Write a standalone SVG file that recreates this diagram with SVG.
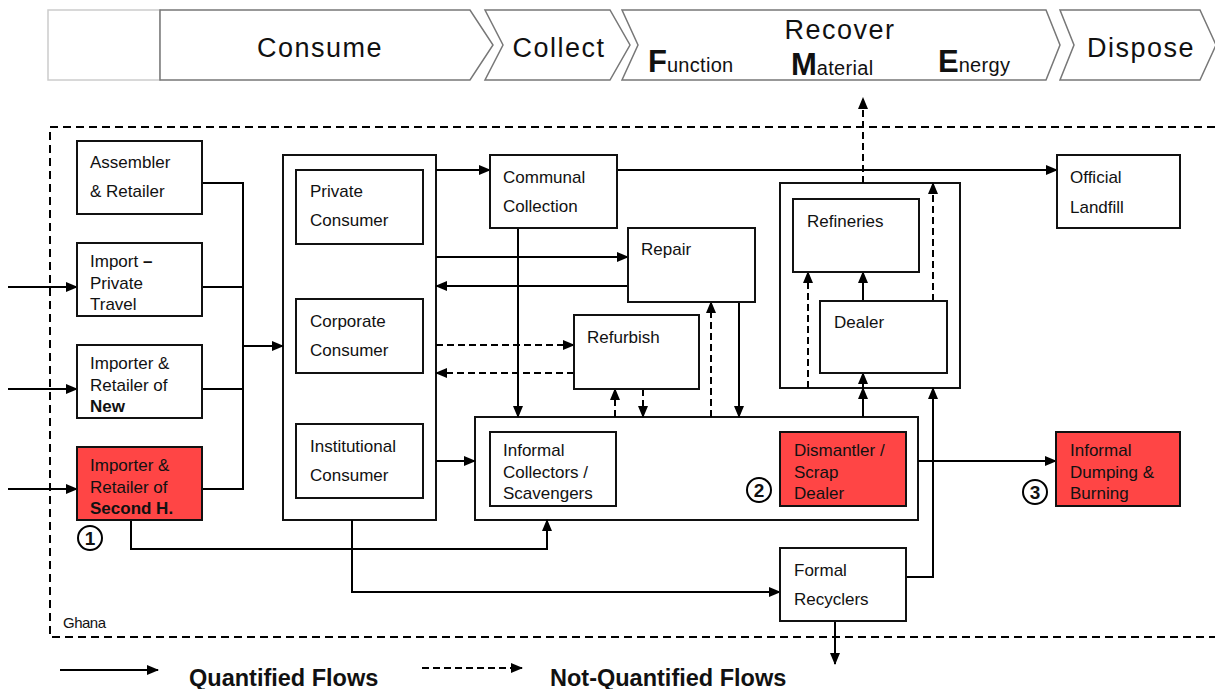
<svg xmlns="http://www.w3.org/2000/svg" width="1215" height="689" viewBox="0 0 1215 689">
<defs>
<marker id="ah" markerWidth="12" markerHeight="10" refX="11" refY="5" orient="auto" markerUnits="userSpaceOnUse">
<path d="M0,0 L12,5 L0,10 z" fill="#000"/>
</marker>
<style>
text{font-family:"Liberation Sans",Arial,sans-serif;fill:#111}
.n{font-size:17px}
.b{font-weight:bold}
.box{fill:#fff;stroke:#111;stroke-width:2}
.red{fill:#ff4545;stroke:#111;stroke-width:2}
.chev{fill:#fff;stroke:#777;stroke-width:1.5}
.ban{font-size:27px;letter-spacing:1.5px}
.sm{font-size:20px;letter-spacing:0.3px}
.s{fill:none;stroke:#000;stroke-width:2}
.sa{fill:none;stroke:#000;stroke-width:2;marker-end:url(#ah)}
.d{fill:none;stroke:#000;stroke-width:2;stroke-dasharray:7,4}
.da{fill:none;stroke:#000;stroke-width:2;stroke-dasharray:7,4;marker-end:url(#ah)}
.circ{fill:#fff;stroke:#000;stroke-width:2}
.num{font-size:19px;font-weight:bold;text-anchor:middle}
.leg{font-size:23.5px;font-weight:bold}
</style>
</defs>

<g id="banner">
<rect x="48" y="10" width="112" height="70" fill="#fff" stroke="#ccc" stroke-width="1.5"/>
<path class="chev" d="M160,10 H470 L493,45 L470,80 H160 Z"/>
<text class="ban" x="320" y="57" text-anchor="middle">Consume</text>
<path class="chev" d="M485,10 H610 L630,45 L610,80 H485 L503,45 Z"/>
<text class="ban" x="559" y="57" text-anchor="middle">Collect</text>
<path class="chev" d="M622,10 H1046 L1060,45 L1046,80 H622 L638,45 Z"/>
<text class="ban" x="840" y="39" text-anchor="middle">Recover</text>
<text x="648" y="72"><tspan class="b" font-size="31px">F</tspan><tspan class="sm">unction</tspan></text>
<text x="791" y="75"><tspan class="b" font-size="31px">M</tspan><tspan class="sm">aterial</tspan></text>
<text x="938" y="72"><tspan class="b" font-size="31px">E</tspan><tspan class="sm">nergy</tspan></text>
<path class="chev" d="M1060,10 H1200 L1216,45 L1200,80 H1060 L1074,45 Z"/>
<text class="ban" x="1141" y="57" text-anchor="middle">Dispose</text>
</g>

<g id="ghana">
<path d="M1215,127 H50 V637 H1215" fill="none" stroke="#000" stroke-width="2" stroke-dasharray="8,5"/>
<text x="63" y="628" font-size="15px" letter-spacing="-0.5px">Ghana</text>
</g>

<g id="consumers-group"><rect class="box" x="283" y="155" width="153" height="365"/></g>
<g id="informal-group"><rect class="box" x="475" y="417" width="443" height="103"/></g>
<g id="refine-group"><rect class="box" x="780" y="183" width="180" height="205"/></g>

<g id="connectors">
<path class="sa" d="M8,287 H77"/>
<path class="sa" d="M8,389 H77"/>
<path class="sa" d="M8,489 H77"/>
<path class="s" d="M202,183 H243 V489 H202"/>
<path class="s" d="M202,287 H243"/>
<path class="s" d="M202,389 H243"/>
<path class="sa" d="M243,346 H283"/>
<path class="sa" d="M436,170 H490"/>
<path class="sa" d="M617,170 H1057"/>
<path class="sa" d="M436,257 H628"/>
<path class="sa" d="M628,286 H436"/>
<path class="da" d="M436,345 H574"/>
<path class="da" d="M574,373 H436"/>
<path class="sa" d="M436,461 H475"/>
<path class="sa" d="M518,228 V417"/>
<path class="da" d="M615,417 V389"/>
<path class="da" d="M643,389 V417"/>
<path class="da" d="M711,417 V302"/>
<path class="sa" d="M739,302 V417"/>
<path class="sa" d="M863,417 V388"/>
<path class="sa" d="M863,388 V373"/>
<path class="sa" d="M863,301 V272"/>
<path class="da" d="M808,388 V272"/>
<path class="da" d="M933,301 V183"/>
<path class="da" d="M863,183 V98"/>
<path class="s" d="M906,577 H933 V400"/>
<path class="sa" d="M933,400 V388"/>
<path class="sa" d="M835,621 V664"/>
<path class="sa" d="M352,520 V592 H780"/>
<path class="sa" d="M131,520 V549 H547 V520"/>
<path class="sa" d="M918,461 H1056"/>
</g>

<g id="assembler"><rect class="box" x="77" y="141" width="125" height="73"/>
<text class="n" x="90" y="168">Assembler</text><text class="n" x="90" y="197">&amp; Retailer</text></g>
<g id="import-private"><rect class="box" x="77" y="243" width="125" height="73"/>
<text class="n" x="90" y="267">Import <tspan class="b">–</tspan></text><text class="n" x="90" y="289">Private</text><text class="n" x="90" y="310">Travel</text></g>
<g id="importer-new"><rect class="box" x="77" y="345" width="125" height="73"/>
<text class="n" x="90" y="369">Importer &amp;</text><text class="n" x="90" y="391">Retailer of</text><text class="n b" x="90" y="412">New</text></g>
<g id="importer-second"><rect class="red" x="77" y="447" width="125" height="73"/>
<text class="n" x="90" y="471">Importer &amp;</text><text class="n" x="90" y="493">Retailer of</text><text class="n b" x="90" y="514">Second H.</text>
<circle class="circ" cx="90" cy="538" r="12"/><text class="num" x="90" y="545">1</text></g>

<g id="private-consumer"><rect class="box" x="296" y="170" width="127" height="74"/>
<text class="n" x="310" y="197">Private</text><text class="n" x="310" y="226">Consumer</text></g>
<g id="corporate-consumer"><rect class="box" x="296" y="299" width="127" height="74"/>
<text class="n" x="310" y="327">Corporate</text><text class="n" x="310" y="356">Consumer</text></g>
<g id="institutional-consumer"><rect class="box" x="296" y="424" width="127" height="74"/>
<text class="n" x="310" y="452">Institutional</text><text class="n" x="310" y="481">Consumer</text></g>

<g id="communal"><rect class="box" x="490" y="155" width="127" height="73"/>
<text class="n" x="503" y="183">Communal</text><text class="n" x="503" y="212">Collection</text></g>
<g id="repair"><rect class="box" x="628" y="228" width="127" height="74"/>
<text class="n" x="641" y="255">Repair</text></g>
<g id="refurbish"><rect class="box" x="574" y="315" width="125" height="74"/>
<text class="n" x="587" y="343">Refurbish</text></g>
<g id="refineries"><rect class="box" x="793" y="199" width="126" height="73"/>
<text class="n" x="807" y="227">Refineries</text></g>
<g id="dealer"><rect class="box" x="820" y="301" width="127" height="72"/>
<text class="n" x="834" y="328">Dealer</text></g>
<g id="landfill"><rect class="box" x="1057" y="155" width="123" height="73"/>
<text class="n" x="1070" y="183">Official</text><text class="n" x="1070" y="213">Landfill</text></g>

<g id="informal-collectors"><rect class="box" x="490" y="432" width="126" height="74"/>
<text class="n" x="503" y="456">Informal</text><text class="n" x="503" y="478">Collectors /</text><text class="n" x="503" y="499">Scavengers</text></g>
<g id="dismantler"><rect class="red" x="780" y="432" width="126" height="74"/>
<text class="n" x="794" y="456">Dismantler /</text><text class="n" x="794" y="478">Scrap</text><text class="n" x="794" y="499">Dealer</text>
<circle class="circ" cx="759" cy="490" r="12"/><text class="num" x="759" y="497">2</text></g>
<g id="dumping"><rect class="red" x="1056" y="432" width="124" height="74"/>
<text class="n" x="1070" y="456">Informal</text><text class="n" x="1070" y="478">Dumping &amp;</text><text class="n" x="1070" y="499">Burning</text>
<circle class="circ" cx="1035" cy="492" r="12"/><text class="num" x="1035" y="499">3</text></g>
<g id="formal"><rect class="box" x="780" y="548" width="126" height="73"/>
<text class="n" x="794" y="576">Formal</text><text class="n" x="794" y="605">Recyclers</text></g>

<g id="legend">
<path class="sa" d="M60,670 H158"/>
<text class="leg" x="189" y="686">Quantified Flows</text>
<path class="da" d="M422,668 H522"/>
<text class="leg" x="550" y="686">Not-Quantified Flows</text>
</g>
</svg>
